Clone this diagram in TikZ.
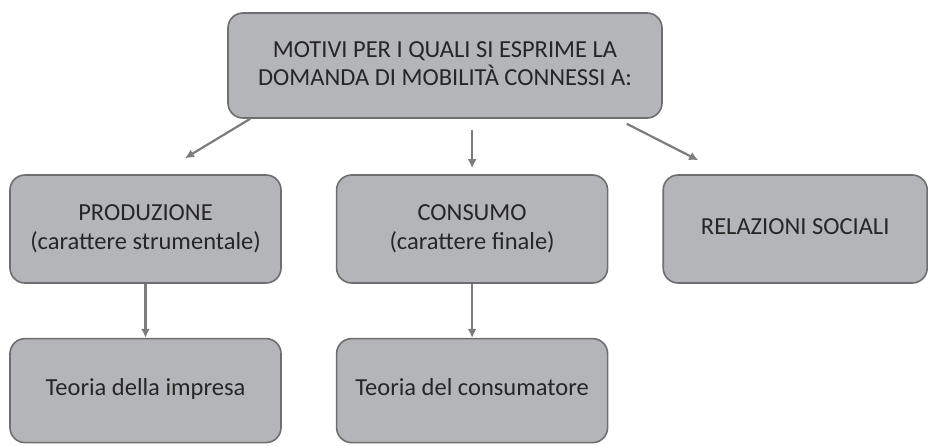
\documentclass[tikz,border=0pt]{standalone}
\usepackage{fontspec}
\setmainfont{Carlito}
\usetikzlibrary{positioning,calc,arrows.meta}

\begin{document}
\begin{tikzpicture}
       \definecolor{boxgray}{HTML}{B4B5B8}
       \definecolor{darkgray}{HTML}{6E6E70}
       \definecolor{arrowgray}{HTML}{7C7C7E}

       \newcommand{\nodegap}[0]{54pt}
       \newcommand{\nodename}[1]{\begin{tabular}{c}#1\end{tabular}}

       \tikzstyle{block}     = [rectangle, rounded corners=15pt, fill = boxgray, draw = darkgray, line width=1.6pt,
                                minimum width=271pt, minimum height=108pt, inner sep=0pt,
                                font=\fontsize{24.5}{29.5}\selectfont, text=black!85]
       \tikzstyle{connector} = [line width=2.2pt, draw = arrowgray, -{Latex[length=9pt,width=9pt]}]

       \useasboundingbox (0pt,0pt) rectangle (928pt,-445pt);

       \node [block, minimum width=434pt, minimum height=105pt] (motivi) at (445pt,-65.5pt) {
         \nodename{
           MOTIVI PER I QUALI SI ESPRIME LA\\[-2pt]
           DOMANDA DI MOBILITÀ CONNESSI A:
         }
       };

       \node [block] (produzione) at (145.5pt,-229pt) {
         \nodename{
           PRODUZIONE\\
           (carattere strumentale)
         }
       };
       \node [block, right = \nodegap of produzione] (consumo) {
         \nodename{
           CONSUMO\\
           (carattere finale)
         }
       };
       \node [block, right = \nodegap of consumo, minimum width=264pt] (relazioni) {
         \nodename{RELAZIONI SOCIALI}
       };

       \node [block, below = \nodegap of produzione, minimum height=104pt] (impresa) {
         \nodename{Teoria della impresa\\[2pt]}
       };
       \node [block, below = \nodegap of consumo, minimum height=104pt] (consumatore) {
         \nodename{Teoria del consumatore\\[2pt]}
       };

       \coordinate (prodtip) at ($(produzione.north)+(39.5pt,16pt)$);
       \coordinate (reltip)  at ($(relazioni.north)+(-97pt,14pt)$);

       \draw [connector] ([xshift=23pt]motivi.south west) -- (prodtip);
       \draw [connector, shorten <=11pt, shorten >=6pt] (consumo.north |- motivi.south) -- (consumo.north);
       \draw [connector] ([xshift=-36pt,yshift=-5pt]motivi.south east) -- (reltip);
       \draw [connector] (produzione) -- (impresa);
       \draw [connector] (consumo)    -- (consumatore);
     \end{tikzpicture}
\end{document}
